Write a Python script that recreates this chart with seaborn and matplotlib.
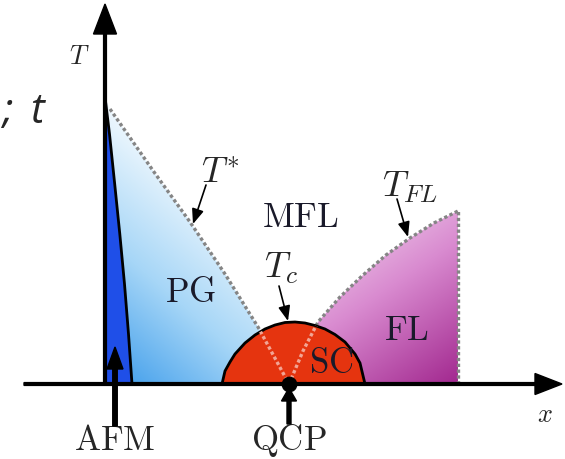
import numpy as np
import matplotlib
matplotlib.use("Agg")
import matplotlib.pyplot as plt
from matplotlib.colors import LinearSegmentedColormap
from matplotlib.patches import Polygon
import seaborn as sns

# ---------------- data (schematic phase diagram, x = doping, T = temperature) -------------
afm_x = [0.27, 0.235, 0.195, 0.148, 0.097, 0.045, 0.0]
afm_T = [0.0, 0.5, 1.0, 1.5, 2.0, 2.5, 2.87]

tstar_x = [0.05, 0.49, 0.85, 1.20, 1.53, 1.84]
tstar_T = [2.75, 2.12, 1.62, 1.10, 0.57, 0.0]

tfl_x = [1.84, 1.98, 2.13, 2.35, 2.57, 2.81, 3.05, 3.29, 3.53]
tfl_T = [0.0, 0.33, 0.62, 0.87, 1.08, 1.29, 1.46, 1.61, 1.73]

fl_edge_x = [3.53, 3.53]
fl_edge_T = [0.0, 1.73]

dome_x = [1.17, 1.20, 1.25, 1.30, 1.40, 1.50, 1.60, 1.70, 1.80, 1.90,
          2.00, 2.10, 2.20, 2.30, 2.40, 2.50, 2.55, 2.60]
dome_T = [0.0, 0.13, 0.22, 0.30, 0.41, 0.49, 0.55, 0.59, 0.615, 0.62,
          0.61, 0.585, 0.55, 0.495, 0.42, 0.30, 0.21, 0.0]

qcp_x = [1.84]
qcp_T = [0.0]

region_labels = ["PG", "MFL", "SC", "FL"]
region_pos = [(0.86, 0.93), (1.95, 1.68), (2.26, 0.22), (3.01, 0.55)]

# ---------------- style -------------
sns.set_theme(style="white")
plt.rcParams["mathtext.fontset"] = "cm"
plt.rcParams["font.family"] = ["DejaVu Sans"]

fig = plt.figure(figsize=(5.65, 4.6), dpi=100)
ax = fig.add_axes([0, 0, 1, 1])
ax.set_xlim(-1.05, 4.60)
ax.set_ylim(-0.75, 3.85)
ax.set_axis_off()

GRAY = "#858585"
DOT = (0, (1.0, 0.75))

# ---------------- gradient regions -------------
def gradient_fill(poly_pts, cmap, func, zorder):
    poly = Polygon(poly_pts, closed=True, facecolor="none", edgecolor="none")
    ax.add_patch(poly)
    xs = np.linspace(-0.1, 3.7, 400)
    ts = np.linspace(-0.05, 3.0, 400)
    X, Tm = np.meshgrid(xs, ts)
    Z = np.clip(func(X, Tm), 0, 1)
    im = ax.imshow(Z, extent=(xs[0], xs[-1], ts[0], ts[-1]), origin="lower",
                   cmap=cmap, vmin=0, vmax=1, aspect="auto", zorder=zorder,
                   interpolation="bilinear")
    im.set_clip_path(poly)
    return poly

pg_cmap = LinearSegmentedColormap.from_list("pg", ["#3a9aea", "#a6d6f7", "#f4fafe"])
pg_pts = list(zip(afm_x, afm_T)) + list(zip(tstar_x, tstar_T))
gradient_fill(pg_pts, pg_cmap, lambda X, T: 0.55 * T / 1.6 + 0.45 * X / 1.5, 1)

fl_cmap = LinearSegmentedColormap.from_list("fl", ["#f8eaf6", "#d98bd0", "#a2288f"])
fl_pts = list(zip(tfl_x, tfl_T)) + [(fl_edge_x[0], fl_edge_T[0])]
gradient_fill(fl_pts, fl_cmap,
              lambda X, T: 0.6 * (1.73 - T) / 1.73 + 0.4 * (X - 1.84) / 1.69, 1)

# AFM region
ax.fill_betweenx(afm_T, 0, afm_x, color="#1f4fe8", zorder=2, lw=0)
sns.lineplot(x=afm_x, y=afm_T, sort=False, estimator=None, ax=ax,
             color="black", lw=2.0, zorder=3)

# crossover lines
for lx, ly in [(tstar_x, tstar_T), (tfl_x, tfl_T), (fl_edge_x, fl_edge_T)]:
    sns.lineplot(x=lx, y=ly, sort=False, estimator=None, ax=ax,
                 color=GRAY, lw=2.4, linestyle=DOT, zorder=3)

# SC dome
dome = Polygon(list(zip(dome_x, dome_T)), closed=True, facecolor="#e5340f",
               edgecolor="black", lw=2.0, zorder=4)
ax.add_patch(dome)
for lx, ly in [(tstar_x, tstar_T), (tfl_x, tfl_T)]:
    ln = ax.plot(lx, ly, color="#f2a595", lw=2.4, linestyle=DOT, zorder=5)[0]
    ln.set_clip_path(dome)

# ---------------- axes arrows -------------
ax.arrow(-0.81, 0, 5.38, 0, width=0.028, head_width=0.21, head_length=0.27,
         length_includes_head=True, color="black", zorder=6)
ax.arrow(0, 0, 0, 3.80, width=0.028, head_width=0.23, head_length=0.30,
         length_includes_head=True, color="black", zorder=6)

# QCP point and pointer arrows
sns.scatterplot(x=qcp_x, y=qcp_T, ax=ax, color="black", s=110, zorder=7,
                edgecolor="black", legend=False)
ax.arrow(0.10, -0.42, 0, 0.79, width=0.045, head_width=0.16, head_length=0.22,
         length_includes_head=True, color="black", zorder=7)
ax.arrow(1.84, -0.40, 0, 0.36, width=0.04, head_width=0.15, head_length=0.13,
         length_includes_head=True, color="black", zorder=7)

# ---------------- labels -------------
FS = 25
for lab, (lx, ly) in zip(region_labels, region_pos):
    ax.text(lx, ly, r"$\mathrm{%s}$" % lab, fontsize=FS, ha="center", va="center",
            color="#1a1a2a", zorder=8)

ax.text(0.10, -0.555, r"$\mathrm{AFM}$", fontsize=25, ha="center", va="center")
ax.text(1.84, -0.555, r"$\mathrm{QCP}$", fontsize=25, ha="center", va="center")
ax.text(4.40, -0.30, r"$x$", fontsize=19, ha="center", va="center")
ax.text(-0.26, 3.28, r"$T$", fontsize=19, ha="center", va="center")

ax.text(1.15, 2.12, r"$T^{*}$", fontsize=26, ha="center", va="center")
ax.text(1.76, 1.17, r"$T_{c}$", fontsize=26, ha="center", va="center")
ax.text(3.05, 1.98, r"$T_{FL}$", fontsize=26, ha="center", va="center")

arrow_kw = dict(arrowstyle="-|>,head_length=0.9,head_width=0.36", color="black",
                lw=1.2, shrinkA=0, shrinkB=0, mutation_scale=10)
ax.annotate("", xy=(0.88, 1.60), xytext=(1.01, 1.99), arrowprops=arrow_kw, zorder=8)
ax.annotate("", xy=(1.83, 0.63), xytext=(1.74, 0.98), arrowprops=arrow_kw, zorder=8)
ax.annotate("", xy=(3.03, 1.47), xytext=(2.92, 1.85), arrowprops=arrow_kw, zorder=8)

# partial text at top-left
ax.text(-1.03, 2.62, ";", fontsize=30, fontstyle="italic",
        family=["Open Sans", "DejaVu Sans"], ha="left", va="baseline")
ax.text(-0.75, 2.62, "t", fontsize=30, fontstyle="italic",
        family=["Open Sans", "DejaVu Sans"], ha="left", va="baseline")

fig.savefig("out.png", dpi=100)
